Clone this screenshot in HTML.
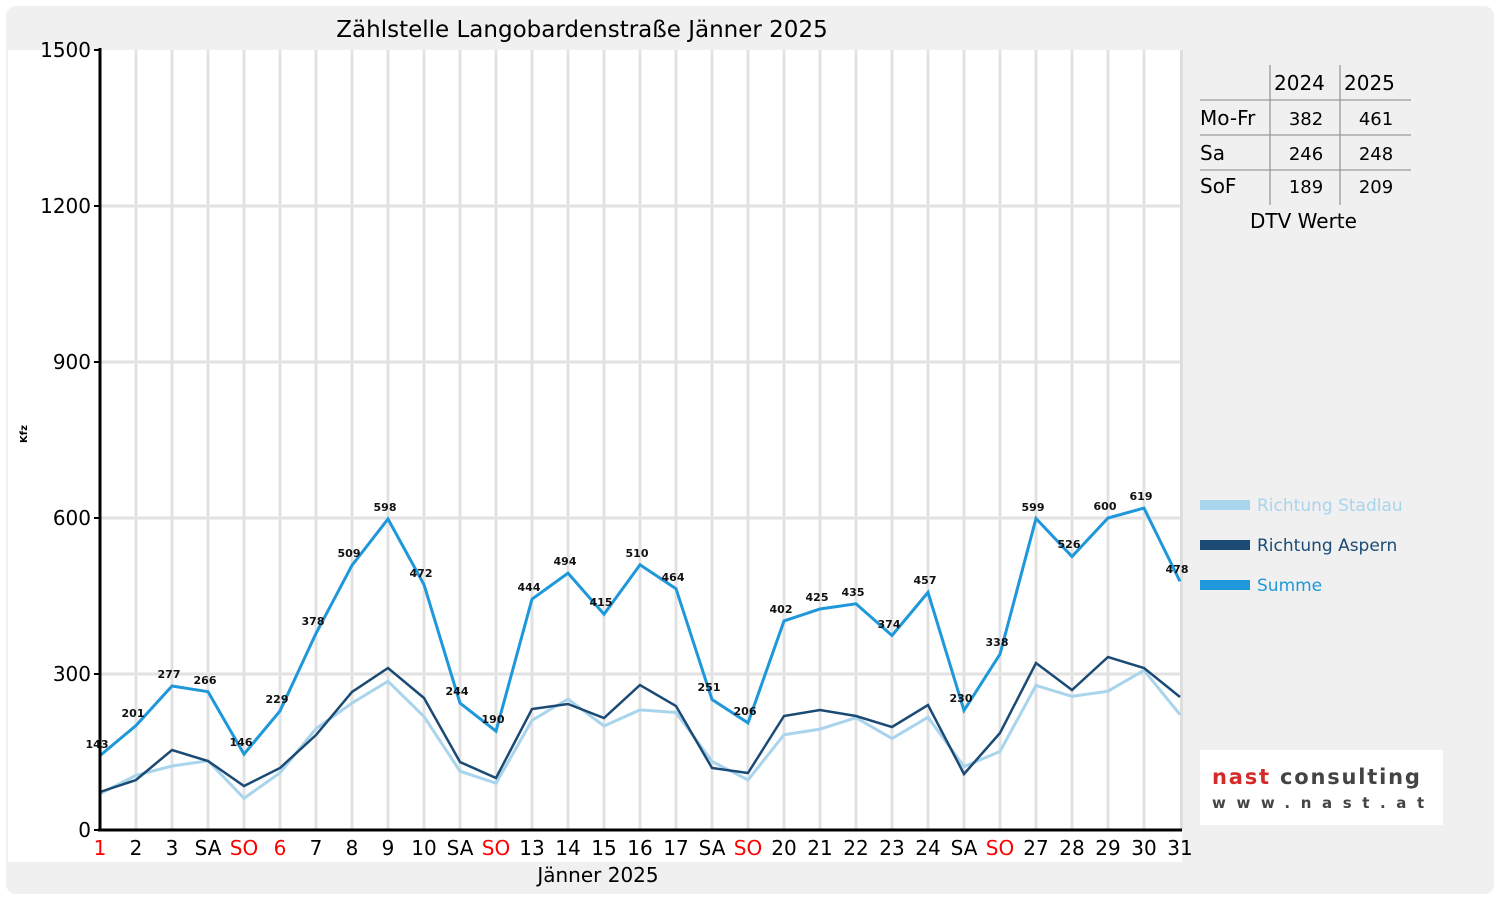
<!DOCTYPE html>
<html><head><meta charset="utf-8"><style>
body{margin:0;background:#fff;}
svg{display:block;font-family:"DejaVu Sans","Liberation Sans",sans-serif;}
</style></head><body>
<svg width="1500" height="900" viewBox="0 0 1500 900">
<rect x="0" y="0" width="1500" height="900" fill="#fff"/>
<rect x="6" y="6" width="1488" height="888" rx="10" fill="#f0f0f0"/>
<rect x="8" y="50" width="1174" height="812" fill="#fff"/>
<rect x="1180" y="50" width="3" height="780" fill="#ddd"/>
<text x="582" y="37" font-size="23" text-anchor="middle" fill="#000">Zählstelle Langobardenstraße Jänner 2025</text>
<g stroke="#e2e2e2" stroke-width="3">
<line x1="100" y1="674" x2="1180" y2="674"/><line x1="100" y1="518" x2="1180" y2="518"/><line x1="100" y1="362" x2="1180" y2="362"/><line x1="100" y1="206" x2="1180" y2="206"/>
<line x1="136" y1="50" x2="136" y2="830"/><line x1="172" y1="50" x2="172" y2="830"/><line x1="208" y1="50" x2="208" y2="830"/><line x1="244" y1="50" x2="244" y2="830"/><line x1="280" y1="50" x2="280" y2="830"/><line x1="316" y1="50" x2="316" y2="830"/><line x1="352" y1="50" x2="352" y2="830"/><line x1="388" y1="50" x2="388" y2="830"/><line x1="424" y1="50" x2="424" y2="830"/><line x1="460" y1="50" x2="460" y2="830"/><line x1="496" y1="50" x2="496" y2="830"/><line x1="532" y1="50" x2="532" y2="830"/><line x1="568" y1="50" x2="568" y2="830"/><line x1="604" y1="50" x2="604" y2="830"/><line x1="640" y1="50" x2="640" y2="830"/><line x1="676" y1="50" x2="676" y2="830"/><line x1="712" y1="50" x2="712" y2="830"/><line x1="748" y1="50" x2="748" y2="830"/><line x1="784" y1="50" x2="784" y2="830"/><line x1="820" y1="50" x2="820" y2="830"/><line x1="856" y1="50" x2="856" y2="830"/><line x1="892" y1="50" x2="892" y2="830"/><line x1="928" y1="50" x2="928" y2="830"/><line x1="964" y1="50" x2="964" y2="830"/><line x1="1000" y1="50" x2="1000" y2="830"/><line x1="1036" y1="50" x2="1036" y2="830"/><line x1="1072" y1="50" x2="1072" y2="830"/><line x1="1108" y1="50" x2="1108" y2="830"/><line x1="1144" y1="50" x2="1144" y2="830"/>
</g>
<polyline fill="none" stroke="#a8d4ec" stroke-width="3" points="100,793.6 136,775.4 172,766 208,760.8 244,798.3 280,772.8 316,728.6 352,703.1 388,681.3 424,716.6 460,771.2 496,783.2 532,720.3 568,699 604,726 640,709.9 676,712.5 712,761.4 748,780 784,734.8 820,729.1 856,717.7 892,738.5 928,717.2 964,766.6 1000,751.5 1036,685.4 1072,696.4 1108,691.2 1144,670.4 1180,714.6"/>
<polyline fill="none" stroke="#1b4a74" stroke-width="2.5" points="100,792 136,780 172,750 208,761 244,786 280,768 316,735 352,692 388,668 424,698 460,762 496,778 532,709 568,704 604,718 640,685 676,706 712,768 748,773 784,716 820,710 856,716 892,727 928,705 964,774 1000,733 1036,663 1072,690 1108,657 1144,668 1180,697"/>
<polyline fill="none" stroke="#1e98da" stroke-width="3" points="100,755.6 136,725.5 172,686 208,691.7 244,754.1 280,710.9 316,633.4 352,565.3 388,519 424,584.6 460,703.1 496,731.2 532,599.1 568,573.1 604,614.2 640,564.8 676,588.7 712,699.5 748,722.9 784,621 820,609 856,603.8 892,635.5 928,592.4 964,710.4 1000,654.2 1036,518.5 1072,556.5 1108,518 1144,508.1 1180,581.4"/>
<g font-size="11" font-weight="bold" text-anchor="middle" fill="#111">
<text x="97" y="748">143</text><text x="133" y="717">201</text><text x="169" y="678">277</text><text x="205" y="684">266</text><text x="241" y="746">146</text><text x="277" y="703">229</text><text x="313" y="625">378</text><text x="349" y="557">509</text><text x="385" y="511">598</text><text x="421" y="577">472</text><text x="457" y="695">244</text><text x="493" y="723">190</text><text x="529" y="591">444</text><text x="565" y="565">494</text><text x="601" y="606">415</text><text x="637" y="557">510</text><text x="673" y="581">464</text><text x="709" y="691">251</text><text x="745" y="715">206</text><text x="781" y="613">402</text><text x="817" y="601">425</text><text x="853" y="596">435</text><text x="889" y="628">374</text><text x="925" y="584">457</text><text x="961" y="702">230</text><text x="997" y="646">338</text><text x="1033" y="511">599</text><text x="1069" y="548">526</text><text x="1105" y="510">600</text><text x="1141" y="500">619</text><text x="1177" y="573">478</text>
</g>
<g stroke="#000" stroke-width="3"><line x1="100" y1="48" x2="100" y2="831"/><line x1="98" y1="830" x2="1182" y2="830"/></g>
<g stroke="#000" stroke-width="2"><line x1="94" y1="830" x2="100" y2="830"/><line x1="94" y1="674" x2="100" y2="674"/><line x1="94" y1="518" x2="100" y2="518"/><line x1="94" y1="362" x2="100" y2="362"/><line x1="94" y1="206" x2="100" y2="206"/><line x1="94" y1="50" x2="100" y2="50"/></g>
<g font-size="20" text-anchor="end" fill="#000">
<text x="91" y="837">0</text><text x="91" y="681">300</text><text x="91" y="525">600</text><text x="91" y="369">900</text><text x="91" y="213">1200</text><text x="91" y="57">1500</text>
</g>
<text transform="translate(27,434) rotate(-90)" font-size="10" font-weight="bold" text-anchor="middle">Kfz</text>
<g font-size="20" text-anchor="middle" fill="#000">
<text x="100" y="855" fill="#f00">1</text><text x="136" y="855">2</text><text x="172" y="855">3</text><text x="208" y="855">SA</text><text x="244" y="855" fill="#f00">SO</text><text x="280" y="855" fill="#f00">6</text><text x="316" y="855">7</text><text x="352" y="855">8</text><text x="388" y="855">9</text><text x="424" y="855">10</text><text x="460" y="855">SA</text><text x="496" y="855" fill="#f00">SO</text><text x="532" y="855">13</text><text x="568" y="855">14</text><text x="604" y="855">15</text><text x="640" y="855">16</text><text x="676" y="855">17</text><text x="712" y="855">SA</text><text x="748" y="855" fill="#f00">SO</text><text x="784" y="855">20</text><text x="820" y="855">21</text><text x="856" y="855">22</text><text x="892" y="855">23</text><text x="928" y="855">24</text><text x="964" y="855">SA</text><text x="1000" y="855" fill="#f00">SO</text><text x="1036" y="855">27</text><text x="1072" y="855">28</text><text x="1108" y="855">29</text><text x="1144" y="855">30</text><text x="1180" y="855">31</text>
<text x="598" y="882">Jänner 2025</text>
</g>
<g stroke="#999" stroke-width="1.3">
<line x1="1270" y1="65" x2="1270" y2="205"/><line x1="1340" y1="65" x2="1340" y2="205"/>
<line x1="1200" y1="100" x2="1411" y2="100"/><line x1="1200" y1="135" x2="1411" y2="135"/><line x1="1200" y1="170" x2="1411" y2="170"/>
</g>
<g font-size="20" fill="#000">
<text x="1274" y="90">2024</text><text x="1344" y="90">2025</text>
<text x="1200" y="125">Mo-Fr</text><text x="1200" y="160">Sa</text><text x="1200" y="193">SoF</text>
<text x="1250" y="228">DTV Werte</text>
</g>
<g font-size="18" text-anchor="middle" fill="#000">
<text x="1306" y="125">382</text><text x="1376" y="125">461</text>
<text x="1306" y="160">246</text><text x="1376" y="160">248</text>
<text x="1306" y="193">189</text><text x="1376" y="193">209</text>
</g>
<rect x="1200" y="500" width="50" height="10" fill="#a8d4ec"/><text x="1257" y="511" font-size="17" fill="#a8d4ec">Richtung Stadlau</text>
<rect x="1200" y="540" width="50" height="10" fill="#1b4a74"/><text x="1257" y="551" font-size="17" fill="#1b4a74">Richtung Aspern</text>
<rect x="1200" y="580" width="50" height="10" fill="#1e98da"/><text x="1257" y="591" font-size="17" fill="#1e98da">Summe</text>
<rect x="1200" y="750" width="243" height="75" fill="#fff"/>
<text x="1212" y="784" font-size="21" font-weight="bold" fill="#d42a2a" letter-spacing="1.8">nast <tspan fill="#444">consulting</tspan></text>
<text x="1212" y="808" font-size="15" font-weight="bold" fill="#444" letter-spacing="10.6">www.nast.at</text>
</svg>
</body></html>
